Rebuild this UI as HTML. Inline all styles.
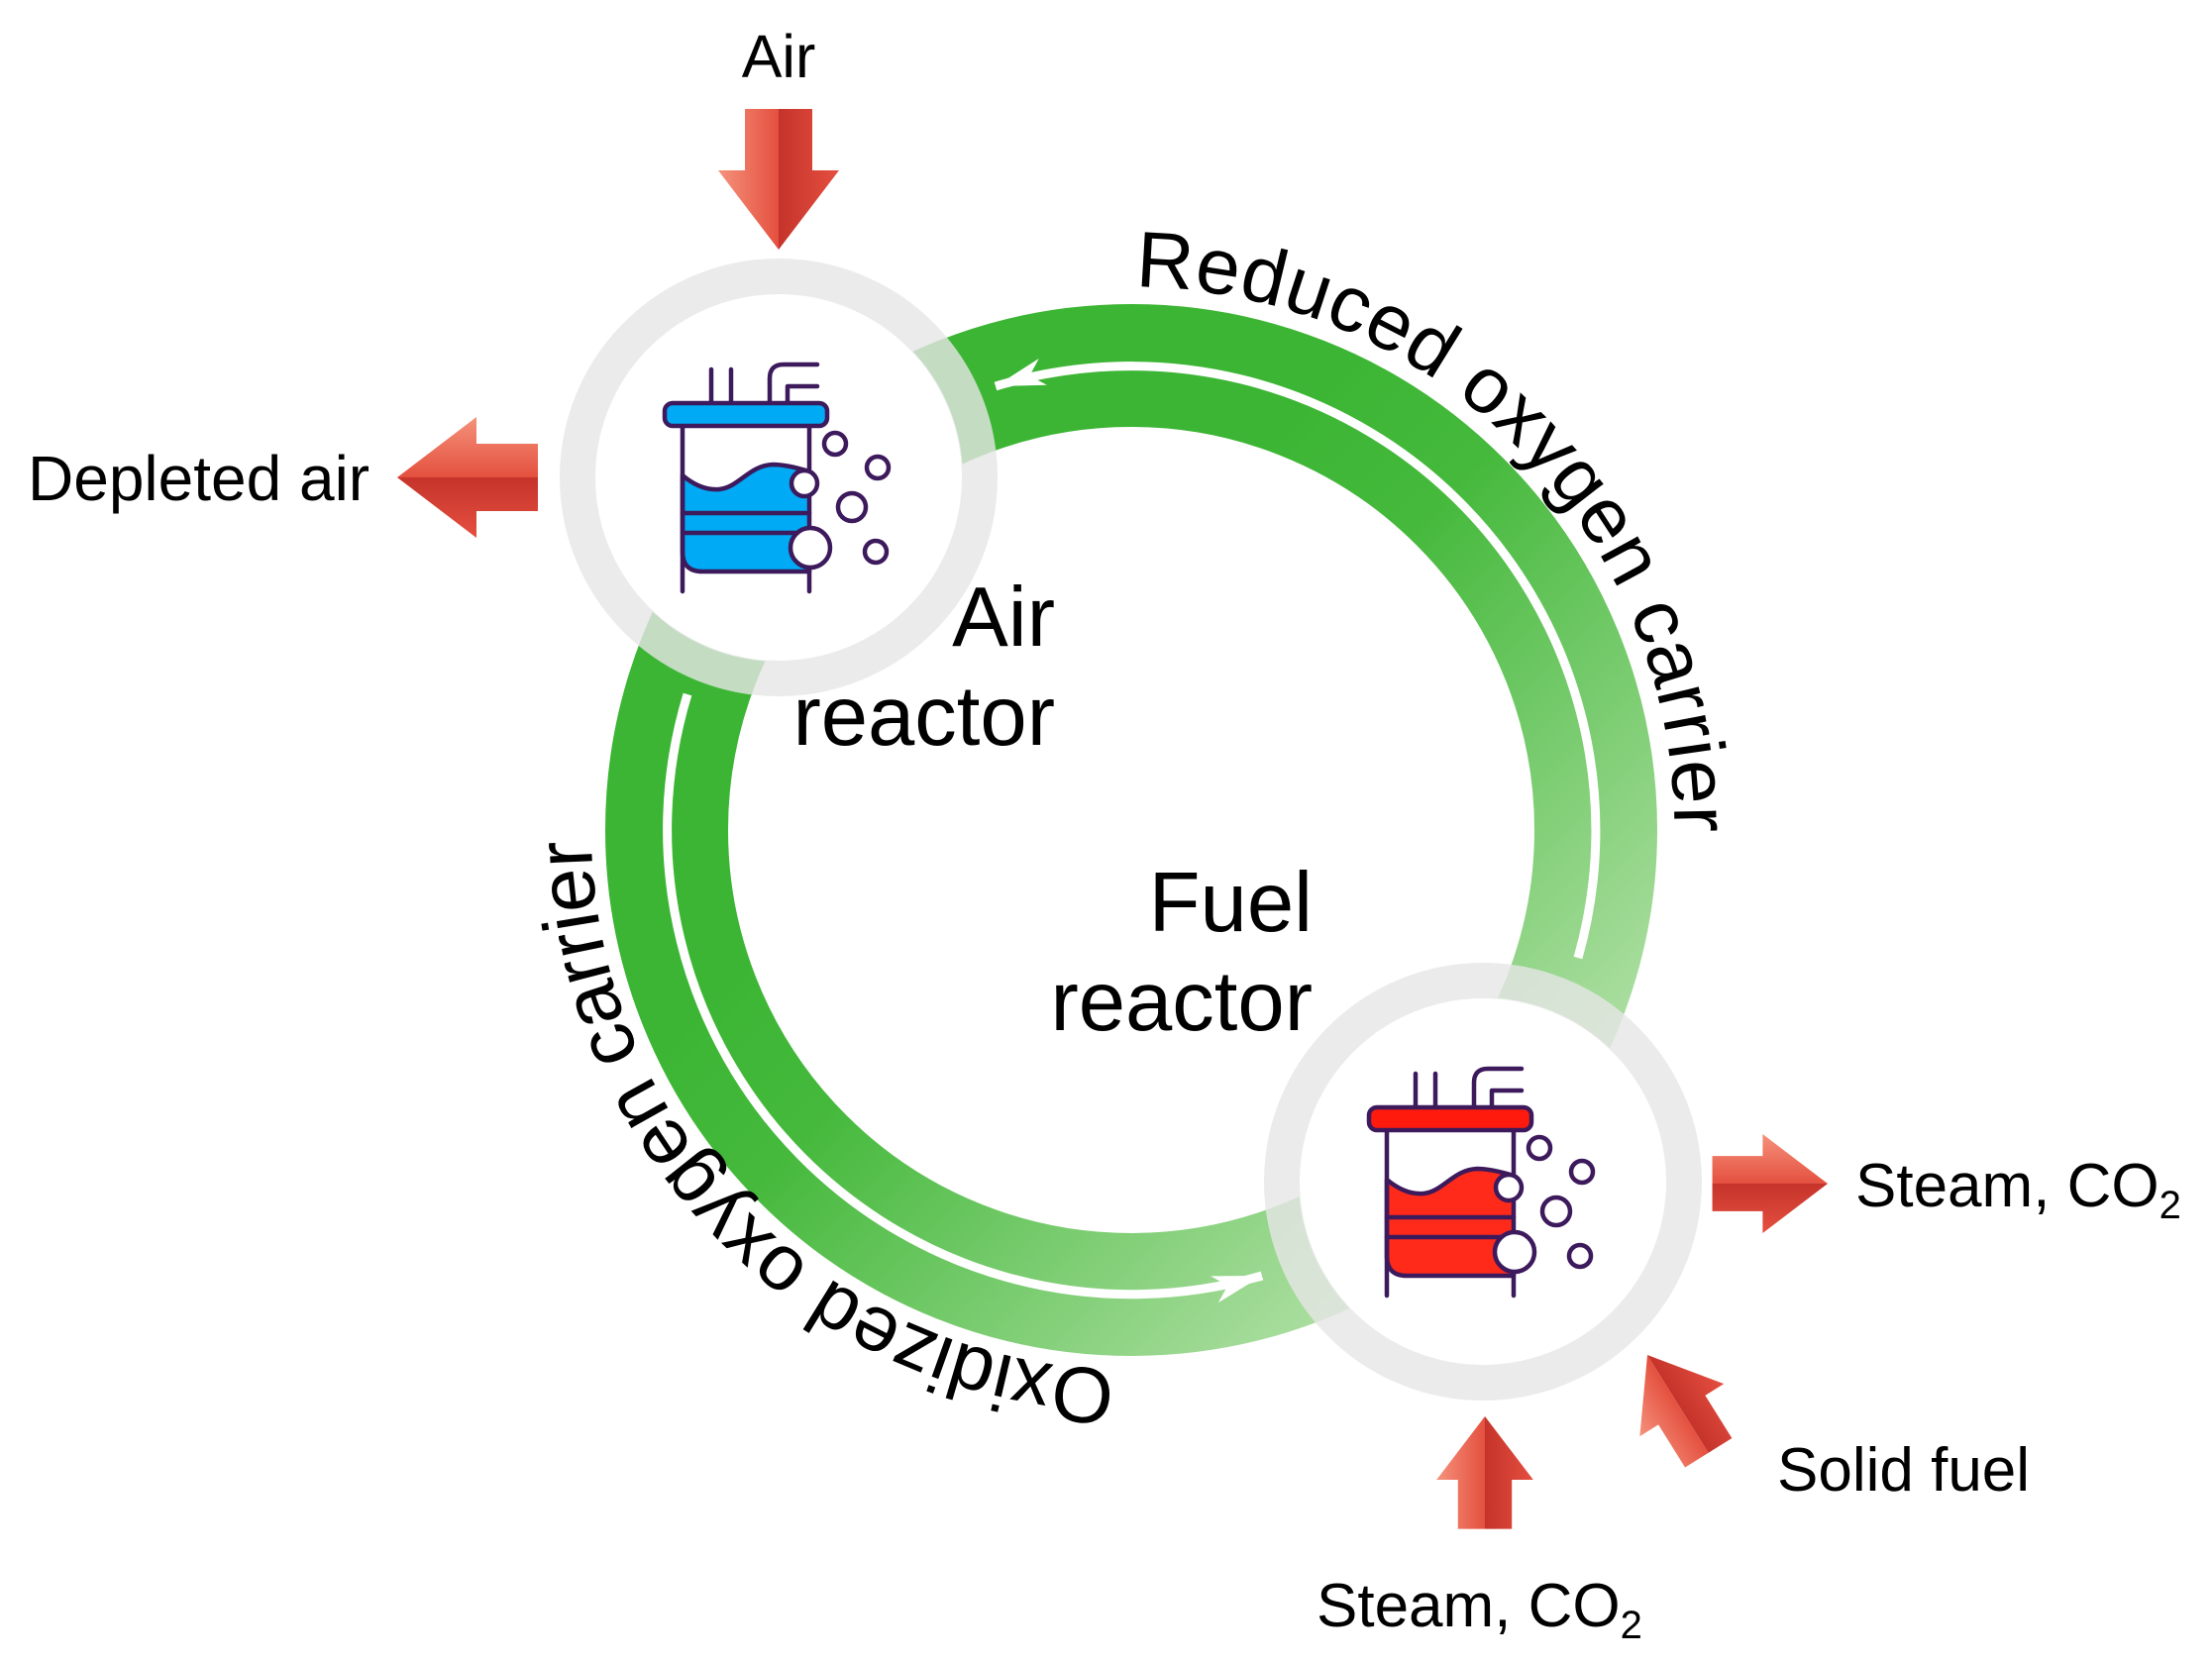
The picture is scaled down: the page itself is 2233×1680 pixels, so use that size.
<!DOCTYPE html>
<html><head><meta charset="utf-8"><style>
html,body{margin:0;padding:0;background:#fff;}
svg{display:block;font-family:"Liberation Sans",Arial,sans-serif;}
</style></head><body>
<svg width="2233" height="1680" viewBox="0 0 2233 1680" xmlns="http://www.w3.org/2000/svg">
<defs>
<linearGradient id="ring" gradientUnits="userSpaceOnUse" x1="860" y1="860" x2="1330" y2="1330">
<stop offset="0" stop-color="#3cb534"/><stop offset="0.25" stop-color="#45b93c"/><stop offset="1" stop-color="#a9dd9e"/>
</linearGradient>
<linearGradient id="rl" x1="0" y1="0" x2="1" y2="0"><stop offset="0" stop-color="#f5927c"/><stop offset="1" stop-color="#e4503f"/></linearGradient>
<linearGradient id="rr" x1="0" y1="0" x2="1" y2="0"><stop offset="0" stop-color="#c5332a"/><stop offset="1" stop-color="#e54f40"/></linearGradient>
<g id="arr">
<polygon points="0,-142 -34,-142 -34,-80 -61,-80 0,0" fill="url(#rl)"/>
<polygon points="0,-142 34,-142 34,-80 61,-80 0,0" fill="url(#rr)"/>
</g>
<path id="tpR" d="M1123,290 A548,548 0 0 1 1682,933" fill="none"/>
<path id="tpO" d="M1142,1383 A545,545 0 0 1 599,790" fill="none"/>
</defs>

<circle cx="1142" cy="838" r="469" fill="none" stroke="url(#ring)" stroke-width="124"/>
<path d="M1593,967 A469,469 0 0 0 1005,390" fill="none" stroke="#fff" stroke-width="9"/>
<polygon points="0,0 -50,-14 -36,0 -50,14" fill="#fff" transform="translate(1005,390) rotate(163)"/>
<path d="M694,701 A469,469 0 0 0 1274,1288" fill="none" stroke="#fff" stroke-width="9"/>
<polygon points="0,0 -50,-14 -36,0 -50,14" fill="#fff" transform="translate(1274,1288) rotate(-16)"/>

<circle cx="786" cy="482" r="186" fill="#fff"/>
<circle cx="786" cy="482" r="203" fill="none" stroke="rgba(230,230,230,0.8)" stroke-width="36"/>
<circle cx="1497" cy="1193" r="186" fill="#fff"/>
<circle cx="1497" cy="1193" r="203" fill="none" stroke="rgba(230,230,230,0.8)" stroke-width="36"/>

<g transform="translate(786,482)" stroke="#3d1a5c" stroke-width="4.5" stroke-linecap="round" stroke-linejoin="round">
<path d="M-68,-109 V-75 M-48,-109 V-75 M-9,-75 V-100 Q-9,-114 5,-114 H39 M9,-75 V-92 H39" fill="none"/>
<path d="M-97,-2 C-85,8 -72,13 -60,12 C-40,10 -30,-12 -6,-13 C6,-13 18,-10 31,-6 L31,95 L-77,95 Q-97,95 -97,75 Z" fill="#00aaf5"/>
<path d="M-97,36 H31 M-97,56 H31" fill="none"/>
<path d="M-97,-52 V115 M31,-52 V-7 M31,91 V115" fill="none"/>
<rect x="-115" y="-75" width="164" height="23" rx="8" fill="#00aaf5"/>
<circle cx="26" cy="6" r="13" fill="#fff"/>
<circle cx="32" cy="71" r="20" fill="#fff"/>
<circle cx="57" cy="-34" r="11" fill="none"/>
<circle cx="100" cy="-10" r="11" fill="none"/>
<circle cx="74" cy="30" r="14" fill="none"/>
<circle cx="98" cy="75" r="11" fill="none"/>
</g>
<g transform="translate(1497,1193)" stroke="#3d1a5c" stroke-width="4.5" stroke-linecap="round" stroke-linejoin="round">
<path d="M-68,-109 V-75 M-48,-109 V-75 M-9,-75 V-100 Q-9,-114 5,-114 H39 M9,-75 V-92 H39" fill="none"/>
<path d="M-97,-2 C-85,8 -72,13 -60,12 C-40,10 -30,-12 -6,-13 C6,-13 18,-10 31,-6 L31,95 L-77,95 Q-97,95 -97,75 Z" fill="#ff2a1a"/>
<path d="M-97,36 H31 M-97,56 H31" fill="none"/>
<path d="M-97,-52 V115 M31,-52 V-7 M31,91 V115" fill="none"/>
<rect x="-115" y="-75" width="164" height="23" rx="8" fill="#ff1a0d"/>
<circle cx="26" cy="6" r="13" fill="#fff"/>
<circle cx="32" cy="71" r="20" fill="#fff"/>
<circle cx="57" cy="-34" r="11" fill="none"/>
<circle cx="100" cy="-10" r="11" fill="none"/>
<circle cx="74" cy="30" r="14" fill="none"/>
<circle cx="98" cy="75" r="11" fill="none"/>
</g>

<use href="#arr" transform="translate(786,252)"/>
<use href="#arr" transform="translate(401,482) rotate(90)"/>
<use href="#arr" transform="translate(1845,1195) rotate(-90) scale(-0.82,0.82)"/>
<use href="#arr" transform="translate(1499,1430) rotate(180) scale(-0.8,0.8)"/>
<use href="#arr" transform="translate(1663,1368) rotate(148) scale(-0.82,0.82)"/>

<g fill="#000">
<text font-size="80"><textPath href="#tpR" startOffset="23" textLength="860" lengthAdjust="spacing">Reduced oxygen carrier</textPath></text>
<text font-size="80"><textPath href="#tpO" startOffset="16" textLength="830" lengthAdjust="spacing">Oxidized oxygen carrier</textPath></text>
<text font-size="85" text-anchor="end" x="1065" y="652">Air</text>
<text font-size="85" text-anchor="end" x="1065" y="752">reactor</text>
<text font-size="85" text-anchor="end" x="1325" y="940">Fuel</text>
<text font-size="85" text-anchor="end" x="1325" y="1040">reactor</text>
<text font-size="61" text-anchor="middle" x="786" y="78">Air</text>
<text font-size="64" x="28" y="505">Depleted air</text>
<text font-size="62" x="1873" y="1218">Steam, CO<tspan font-size="40" dy="12">2</tspan></text>
<text font-size="62" x="1794" y="1505">Solid fuel</text>
<text font-size="62" x="1329" y="1642">Steam, CO<tspan font-size="40" dy="12">2</tspan></text>
</g>
</svg>
</body></html>
